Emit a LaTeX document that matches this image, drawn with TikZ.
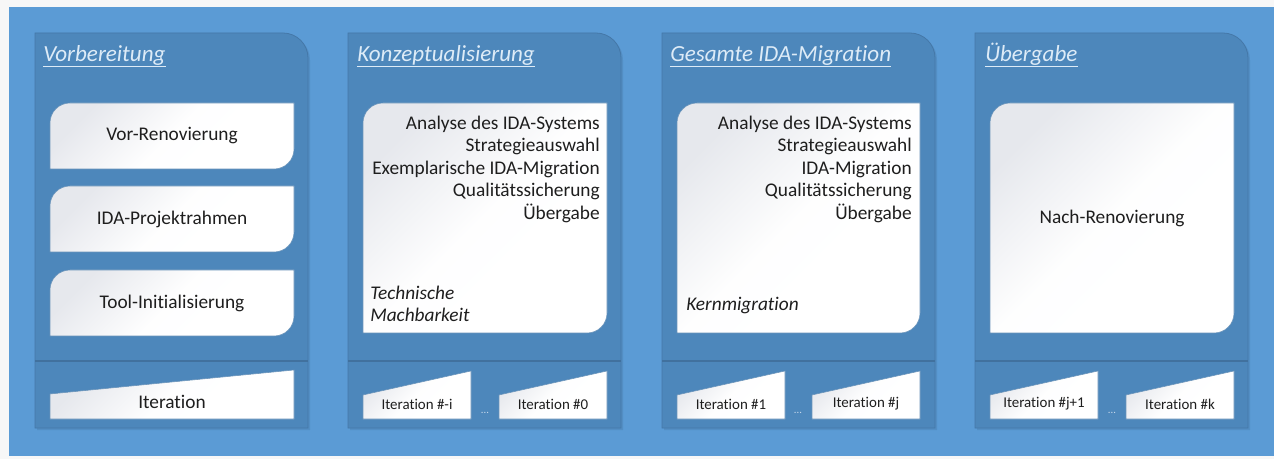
\documentclass[tikz,border=0pt]{standalone}
\usepackage{fontspec}
\setmainfont{Carlito}[Ligatures=NoCommon]
\definecolor{bgblue}{HTML}{5B9BD5}
\definecolor{panelblue}{HTML}{4D87BB}
\definecolor{paneledge}{HTML}{4578A8}
\definecolor{sepline}{HTML}{41719E}
\definecolor{titlecol}{HTML}{DDEBF7}
\definecolor{boxgray}{HTML}{E6E8ED}
\definecolor{txt}{HTML}{1E1E1E}
\definecolor{dotcol}{HTML}{C9DAEC}
\newcommand{\wboxpath}[5]{(#1,#4) -- (#1,#2+#5) arc[start angle=180,end angle=270,radius=#5] -- (#3,#2) -- (#3,#4-#5) arc[start angle=0,end angle=90,radius=#5] -- cycle}
\newcommand{\panelpath}[4]{(#1,#2) -- (#3-25,#2) arc[start angle=270,end angle=360,radius=25] -- (#3,#4) -- (#1,#4) -- cycle}
\begin{document}
\begin{tikzpicture}[x=0.75pt,y=-0.75pt,
  wshade/.style={top color=boxgray,bottom color=white,middle color=white!97!boxgray,shading angle=45,draw=paneledge!80,line width=0.4pt},
  paneltitle/.style={anchor=base west,inner sep=0pt,text=titlecol,font=\fontsize{17.3}{20}\selectfont\itshape},
  bodytxt/.style={inner sep=0pt,text=txt,font=\fontsize{14.5}{17}\selectfont},
  rtxt/.style={bodytxt,anchor=base east},
  ltxt/.style={bodytxt,anchor=base west,font=\fontsize{14.5}{17}\selectfont\itshape},
  smalltxt/.style={inner sep=0pt,text=txt,font=\fontsize{11.2}{13}\selectfont},
  dots/.style={inner sep=0pt,text=dotcol,font=\fontsize{8}{10}\selectfont}]
\useasboundingbox (0,0) rectangle (1274,459);
\fill[white!94!gray] (0,0) rectangle (1274,459);
\fill[bgblue] (9,7) rectangle (1274,456);

% panels
\foreach \px in {35,348,662,975}{
  \fill[black,opacity=0.08] \panelpath{\px+2}{35}{\px+275}{430};
  \filldraw[fill=panelblue,draw=paneledge,line width=0.6pt] \panelpath{\px}{33}{\px+273}{428};
  \draw[sepline,line width=0.8pt] (\px,361) -- (\px+273,361);
}

% titles
\node[paneltitle] (t1) at (43,62) {Vorbereitung};
\node[paneltitle] (t2) at (357,62) {Konzeptualisierung};
\node[paneltitle] (t3) at (670,62) {Gesamte IDA-Migration};
\node[paneltitle] (t4) at (985,62) {Übergabe};
\foreach \t in {t1,t2,t3,t4}{
  \draw[titlecol,line width=0.8pt] ([yshift=-3.5pt]\t.base west) -- ([yshift=-3.5pt]\t.base east);
}

% panel 1 boxes
\shade[wshade] \wboxpath{50}{103}{294}{169}{20};
\shade[wshade] \wboxpath{50}{186}{294}{252}{20};
\shade[wshade] \wboxpath{50}{270}{294}{336}{20};
\node[bodytxt] (b1) at (172,136) {Vor-Renovierung};
\node[bodytxt] (b2) at (172,219) {IDA-Projektrahmen};
\node[bodytxt] (b3) at (172,303) {Tool-Initialisierung};
\shade[wshade] (50,419) -- (50,394) -- (294,370) -- (294,419) -- cycle;
\node[bodytxt] (it0) at (172,402) {Iteration};

% panel 2
\shade[wshade] \wboxpath{363}{103}{607}{333}{20};
\node[rtxt] (a1) at (600,129.5) {Analyse des IDA-Systems};
\node[rtxt] (a2) at (600,152) {Strategieauswahl};
\node[rtxt] (a3) at (600,174.5) {Exemplarische IDA-Migration};
\node[rtxt] (a4) at (600,197) {Qualitätssicherung};
\node[rtxt] (a5) at (600,219.5) {Übergabe};
\node[ltxt] (tm1) at (370,300) {Technische};
\node[ltxt] (tm2) at (370,322) {Machbarkeit};

% panel 3
\shade[wshade] \wboxpath{677}{103}{920}{333}{20};
\node[rtxt] (c1) at (912,129.5) {Analyse des IDA-Systems};
\node[rtxt] (c2) at (912,152) {Strategieauswahl};
\node[rtxt] (c3) at (912,174.5) {IDA-Migration};
\node[rtxt] (c4) at (912,197) {Qualitätssicherung};
\node[rtxt] (c5) at (912,219.5) {Übergabe};
\node[ltxt] (km) at (686,311) {Kernmigration};

% panel 4
\shade[wshade] \wboxpath{990}{103}{1234}{333}{20};
\node[bodytxt] (nr) at (1112,218) {Nach-Renovierung};

% iteration trapezoids
\foreach \x/\lab/\nm in {363/{Iteration \#-i}/i1, 499/{Iteration \#0}/i2, 677/{Iteration \#1}/i3, 812/{Iteration \#j}/i4, 990/{Iteration \#j+1}/i5, 1126/{Iteration \#k}/i6}{
  \shade[wshade] (\x,419) -- (\x,395) -- (\x+108,371) -- (\x+108,419) -- cycle;
  \node[smalltxt] (\nm) at (\x+54,404) {\lab};
}
\node[dots] (d1) at (485,413) {...};
\node[dots] (d2) at (798,413) {...};
\node[dots] (d3) at (1112,413) {...};
\end{tikzpicture}
\end{document}
